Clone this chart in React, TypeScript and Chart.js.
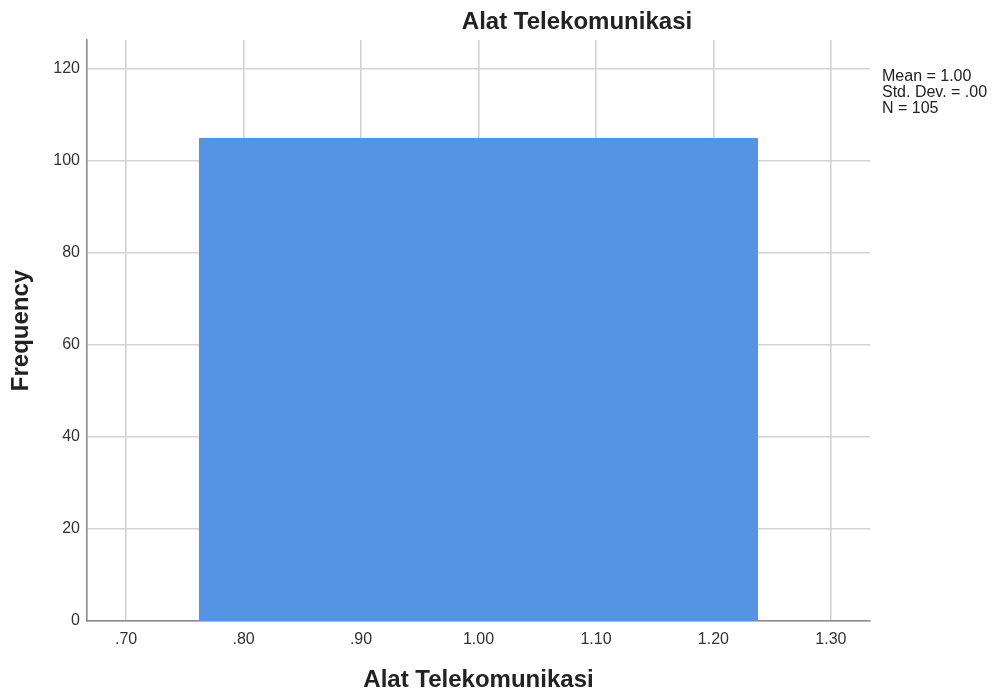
import React, { useEffect, useRef } from "react";
import { Chart, registerables } from "chart.js";

Chart.register(...registerables);

// ---- data ----
const binEdges = [0.762, 1.238];
const binCounts = [105];
const xTickValues = [0.7, 0.8, 0.9, 1.0, 1.1, 1.2, 1.3];
const xTickLabels = [".70", ".80", ".90", "1.00", "1.10", "1.20", "1.30"];
const yTickValues = [0, 20, 40, 60, 80, 100, 120];
const statsLines = ["Mean = 1.00", "Std. Dev. = .00", "N = 105"];
const chartTitle = "Alat Telekomunikasi";
const xTitle = "Alat Telekomunikasi";
const yTitle = "Frequency";
const xRange = [0.6667, 1.3333];
const yRange = [0, 126.3];

const FONT = "'Liberation Sans', Arial, Helvetica, sans-serif";
const BAR = "#5594E3";

function histogramPoints() {
  const pts: { x: number; y: number }[] = [];
  for (let i = 0; i < binCounts.length; i++) {
    const a = binEdges[i];
    const b = binEdges[i + 1];
    pts.push({ x: a, y: 0 }, { x: a, y: binCounts[i] }, { x: b, y: binCounts[i] }, { x: b, y: 0 });
  }
  return pts;
}

const textPlugin = {
  id: "spssText",
  afterDraw(chart: any) {
    const ctx = chart.ctx;
    const area = chart.chartArea;
    ctx.save();
    ctx.fillStyle = "#222";
    ctx.font = `bold 24px ${FONT}`;
    ctx.textAlign = "center";
    ctx.textBaseline = "middle";
    ctx.fillText(chartTitle, 577, 22);
    ctx.font = `16px ${FONT}`;
    ctx.textAlign = "left";
    ctx.textBaseline = "top";
    statsLines.forEach((t, i) => ctx.fillText(t, area.right + 12, 69 + i * 16));
    ctx.restore();
  },
};

export default function App() {
  const ref = useRef<HTMLCanvasElement | null>(null);
  useEffect(() => {
    if (!ref.current) return;
    const chart = new Chart(ref.current, {
      type: "line",
      data: {
        datasets: [
          {
            data: histogramPoints(),
            fill: "origin",
            backgroundColor: BAR,
            borderColor: BAR,
            borderWidth: 0,
            pointRadius: 0,
            tension: 0,
          },
        ],
      },
      options: {
        responsive: false,
        animation: false,
        layout: { padding: { top: 40, right: 125, bottom: 0, left: 0 } },
        plugins: { legend: { display: false }, tooltip: { enabled: false }, title: { display: false } },
        scales: {
          x: {
            type: "linear",
            min: xRange[0],
            max: xRange[1],
            afterBuildTicks: (s: any) => {
              s.ticks = xTickValues.map((v) => ({ value: v }));
            },
            afterFit: (s: any) => {
              s.height = 74;
            },
            grid: { color: "#d4d4d4", lineWidth: 1.6, drawTicks: false },
            border: { display: true, color: "#8a8a8a", width: 1.6 },
            ticks: {
              autoSkip: false,
              maxRotation: 0,
              padding: 9,
              color: "#333",
              font: { family: FONT, size: 16 },
              callback: (v: any) => {
                const i = xTickValues.findIndex((t) => Math.abs(t - Number(v)) < 1e-6);
                return i >= 0 ? xTickLabels[i] : "";
              },
            },
            title: {
              display: true,
              text: xTitle,
              color: "#222",
              font: { family: FONT, size: 24, weight: "bold" },
              padding: { top: 0, bottom: 0 },
            },
          },
          y: {
            type: "linear",
            min: yRange[0],
            max: yRange[1],
            afterBuildTicks: (s: any) => {
              s.ticks = yTickValues.map((v) => ({ value: v }));
            },
            afterFit: (s: any) => {
              s.width = 87;
            },
            grid: { color: "#d4d4d4", lineWidth: 1.6, drawTicks: false },
            border: { display: true, color: "#8a8a8a", width: 1.6 },
            ticks: {
              autoSkip: false,
              padding: 7,
              color: "#333",
              font: { family: FONT, size: 16 },
              callback: (v: any) => String(v),
            },
            title: {
              display: true,
              text: yTitle,
              color: "#222",
              font: { family: FONT, size: 24, weight: "bold" },
              padding: { top: 7, bottom: 0 },
            },
          },
        },
      },
      plugins: [textPlugin],
    } as any);
    return () => chart.destroy();
  }, []);
  return (
    <div style={{ position: "absolute", left: 0, top: 0, width: 995, height: 695, background: "#fff" }}>
      <canvas ref={ref} width={995} height={695} />
    </div>
  );
}
